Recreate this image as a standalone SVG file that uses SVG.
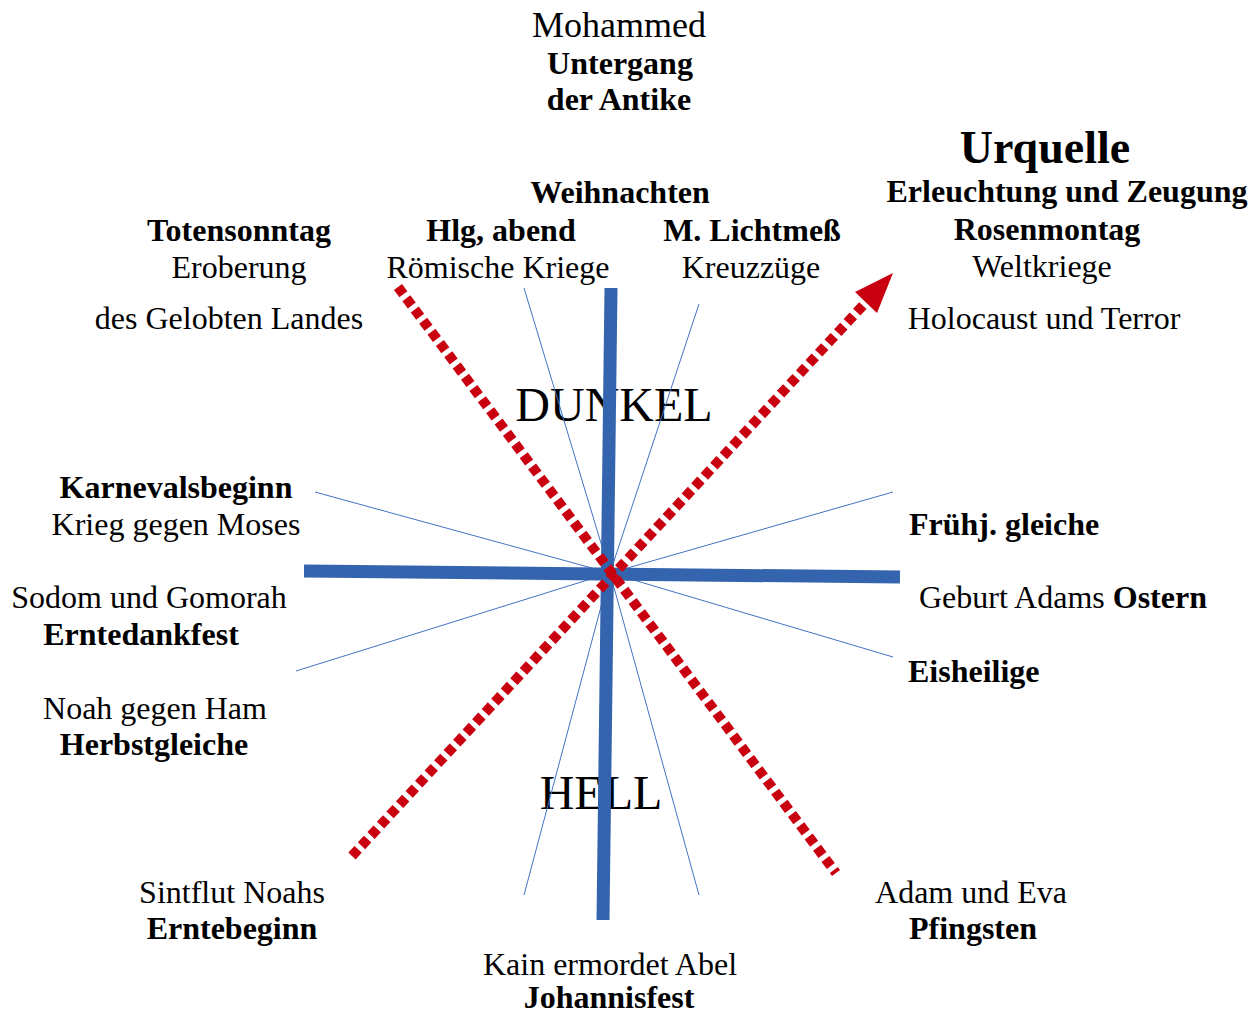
<svg xmlns="http://www.w3.org/2000/svg" width="1258" height="1016" viewBox="0 0 1258 1016">
<style>
text{font-family:"Liberation Serif","Times New Roman",serif;font-size:32px;fill:#000;text-anchor:middle}
.b{font-weight:bold}
.s{text-anchor:start}
.big{font-size:48px}
.thick{stroke:#3464AE;stroke-width:13;fill:none}
.thin{stroke:#4472C4;stroke-width:1;fill:none}
.red{stroke:#C8000F;stroke-width:10;fill:none;stroke-dasharray:9 5}
</style>
<rect width="1258" height="1016" fill="#fff"/>
<g id="top"><text x="619" y="37" style="font-size:36px">Mohammed</text><text class="b" x="620" y="74">Untergang</text><text class="b" x="619" y="110">der Antike</text></g>
<g id="urquelle"><text class="b" x="1045" y="163" style="font-size:46px">Urquelle</text><text class="b" x="1067" y="202">Erleuchtung und Zeugung</text><text class="b" x="1047" y="240">Rosenmontag</text><text x="1042" y="277">Weltkriege</text><text x="1044" y="329">Holocaust und Terror</text></g>
<g id="weihnachten"><text class="b" x="620" y="203">Weihnachten</text></g>
<g id="hlgabend"><text class="b" x="501" y="241">Hlg, abend</text><text x="498" y="278">Römische Kriege</text></g>
<g id="lichtmess"><text class="b" x="752" y="241">M. Lichtmeß</text><text x="751" y="278">Kreuzzüge</text></g>
<g id="totensonntag"><text class="b" x="239" y="241">Totensonntag</text><text x="239" y="278">Eroberung</text><text x="229" y="329">des Gelobten Landes</text></g>
<g id="dunkel"><text class="big" x="614" y="421">DUNKEL</text></g>
<g id="karneval"><text class="b" x="176" y="498">Karnevalsbeginn</text><text x="176" y="535">Krieg gegen Moses</text></g>
<g id="fruehj"><text class="b s" x="909" y="535">Frühj. gleiche</text></g>
<g id="sodom"><text x="149" y="608">Sodom und Gomorah</text><text class="b" x="141" y="645">Erntedankfest</text></g>
<g id="ostern"><text class="s" x="919" y="608">Geburt Adams <tspan class="b">Ostern</tspan></text></g>
<g id="eisheilige"><text class="b s" x="908" y="682">Eisheilige</text></g>
<g id="noah"><text x="155" y="719">Noah gegen Ham</text><text class="b" x="154" y="755">Herbstgleiche</text></g>
<g id="hell"><text class="big" x="601" y="809">HELL</text></g>
<g id="sintflut"><text x="232" y="903">Sintflut Noahs</text><text class="b" x="232" y="939">Erntebeginn</text></g>
<g id="adam"><text x="971" y="903">Adam und Eva</text><text class="b" x="973" y="939">Pfingsten</text></g>
<g id="kain"><text x="610" y="975">Kain ermordet Abel</text><text class="b" x="609" y="1008">Johannisfest</text></g>
<g id="connectors">
<path class="thin" d="M610,573 L524,288 M610,573 L699,304 M610,573 L315,492 M610,573 L893,492 M610,573 L296,671 M610,573 L893,657 M610,573 L524,895 M610,573 L699,895"/>
<path class="thick" d="M611,288 L603,920"/>
<path class="thick" d="M304,571 L900,577"/>
<path class="red" d="M398,287 L836,873"/>
<path class="red" d="M352,856 L868,300"/>
<polygon points="893,273 877,313 855,292" fill="#C8000F"/>
</g>
</svg>
